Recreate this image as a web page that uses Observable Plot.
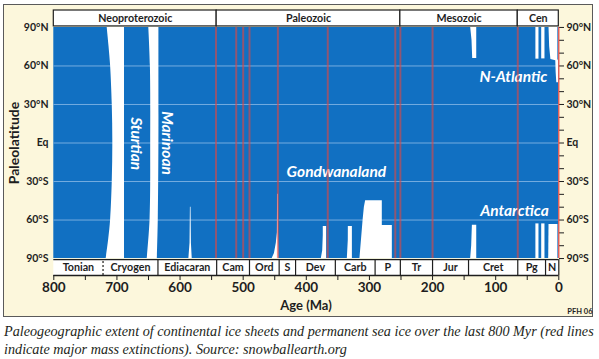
<!DOCTYPE html>
<html><head><meta charset="utf-8">
<script src="https://cdn.jsdelivr.net/npm/d3@7"></script>
<script src="https://cdn.jsdelivr.net/npm/@observablehq/plot@0.6"></script>
<style>
body{margin:0;background:#fff;}
#wrap{position:relative;width:599px;height:359px;overflow:hidden;}
#frame{position:absolute;left:3px;top:4px;width:588px;height:311px;background:#fcf7dc;border:1.5px solid #5a5a5a;}
#chart{position:absolute;left:0;top:0;}
#caption{position:absolute;left:4px;top:322px;width:598px;font-family:"Liberation Serif",serif;font-style:italic;font-size:14.2px;line-height:18px;color:#231f20;white-space:nowrap;}
</style></head><body>
<div id="wrap"><div id="frame"></div><div id="chart"></div>
<div id="caption">Paleogeographic extent of continental ice sheets and permanent sea ice over the last 800 Myr (red lines<br>indicate major mass extinctions). Source: snowballearth.org</div></div>
<script>
// ---- data ----
const eraNames = ["Neoproterozoic", "Paleozoic", "Mesozoic", "Cen"];
const eraBounds = [800, 542, 251, 65, 0];
const periodNames = ["Tonian","Cryogen","Ediacaran","Cam","Ord","S","Dev","Carb","P","Tr","Jur","Cret","Pg","N"];
const periodBounds = [800, 722, 635, 542, 490, 443, 417, 354, 291, 251, 200, 143, 65, 21, 0];
const dashedBounds = [722];
const extinctions = [543, 511, 500, 490, 445, 366, 259, 251, 200, 65];
const latTicks = [-90, -60, -30, 0, 30, 60, 90];
const latMinorTicks = [-90,-80,-70,-60,-50,-40,-30,-20,-10,0,10,20,30,40,50,60,70,80,90];
const gridLats = [-60, -30, 0, 30, 60];
const ageTicks = [800,750,700,650,600,550,500,450,400,350,300,250,200,150,100,50,0];

// full-height glaciations: [lat, older edge (Ma), younger edge (Ma)]
const sturtian = [[90,715.4,688],[75,712.5,688],[60,710,688],[30,707.4,688],[0,706.5,688],[-30,707.4,688],[-60,710,688],[-75,713,688],[-90,717,688]];
const marinoan = [[90,649.5,633.5],[60,647,633.5],[0,646.5,633.5],[-60,647.5,634.5],[-90,652,636]];
// southern ice rising from the pole: [age (Ma), upper latitude]
const gaskiers = [[586,-90],[584.2,-78],[583.6,-50],[582.6,-50],[582,-78],[580.7,-90]];
const hirnantian = [[454,-90],[450.5,-86],[447.5,-78],[445.8,-70],[445.5,-40],[444.4,-40],[444,-70],[443.4,-90]];
const lateDevonian = [[376.2,-90],[374,-84],[373.1,-72],[373.1,-65],[367.8,-65],[367.8,-90]];
const mississippian = [[335,-90],[333.5,-76],[333.4,-65],[327,-65],[327,-90]];
const lpia = [[315,-90],[312.5,-75],[310,-60],[308,-50],[306,-45],[279.6,-45],[279.6,-64.3],[263.7,-64.3],[263.7,-90]];
// polar caps: [lat, older edge, younger edge]
const earlyCretN = [[90,139.6,130],[80,137.5,130],[65.8,136.4,130]];
const earlyCretS = [[-64,136.9,130],[-80,138,130],[-90,139.6,130]];
const oligoceneN = [[90,36.3,31.4],[65.3,36.3,31.4]];
const mioceneN = [[90,27.1,21.9],[65.5,27.1,21.9]];
const neogeneN = [[90,15.5,1.5],[75,14.5,1.5],[65,12.5,1.5],[64,4.8,0.5],[55,4.2,0.5],[47,3.2,0.5]];
const oligoceneS = [[-63,36.3,31.4],[-90,36.3,31.4]];
const mioceneS = [[-63,27.1,21.9],[-90,27.1,21.9]];
const neogeneS = [[-63.5,15.5,1.5],[-90,16,1.5]];

const iceLabels = ["Sturtian","Marinoan","Gondwanaland","N-Atlantic","Antarctica"];
const labelAge = [670.5, 621.4, 352.3, 72, 70.3];
const labelLat = [-0.5, 0, -22.8, 51, -52.9];
const labelRotate = [90, 90, 0, 0, 0];

// ---- derived tables ----
const eras = eraNames.map((n, i) => ({name: n, a: eraBounds[i], b: eraBounds[i + 1]}));
const periods = periodNames.map((n, i) => ({name: n, a: periodBounds[i], b: periodBounds[i + 1]}));
const solidBounds = periodBounds.filter(b => b !== 800 && !dashedBounds.includes(b));
const labels = iceLabels.map((t, i) => ({t, age: labelAge[i], lat: labelLat[i], r: labelRotate[i]}));
const latFmt = d => d === 0 ? "Eq" : `${Math.abs(d)}°${d > 0 ? "N" : "S"}`;

const BLUE = "#1170c2", GRID = "#74ace0", WHITE = "#ffffff", INK = "#1e1e1e";
const H1 = 90.8, H2 = 103.2;

const capsX = [sturtian, marinoan, earlyCretN, earlyCretS, oligoceneN, mioceneN, neogeneN, oligoceneS, mioceneS, neogeneS];
const spikes = [gaskiers, hirnantian, lateDevonian, mississippian, lpia];

const chart = Plot.plot({
  width: 599, height: 320,
  marginLeft: 53, marginRight: 41, marginTop: 10, marginBottom: 45,
  x: {domain: [800, 0], range: [53.3, 558.3], label: null},
  y: {domain: [-H2, H2], range: [275, 10], label: null},
  style: {background: "transparent", fontFamily: "Lato", fontWeight: "bold", color: INK},
  marks: [
    Plot.rect([eraBounds], {x1: () => 800, x2: () => 0, y1: -90, y2: 90, fill: BLUE}),
    Plot.ruleY(gridLats, {x1: 800, x2: 0, stroke: GRID, strokeWidth: 1}),
    ...capsX.map((arr, i) => Plot.areaX(arr, {y: d => d[0], x1: d => d[1], x2: d => d[2], fill: WHITE, curve: i < 2 ? "catmull-rom" : "linear"})),
    ...spikes.map(arr => Plot.areaY(arr, {x: d => d[0], y1: -90, y2: d => d[1], fill: WHITE})),
    Plot.text(labels, {x: "age", y: "lat", text: "t", rotate: "r", fill: WHITE, fontSize: 15.5, fontStyle: "italic", fontWeight: "bold"}),
    Plot.ruleX(extinctions, {y1: -90, y2: 90, stroke: "#e8453c", strokeOpacity: 0.6, strokeWidth: 2}),
    // era header
    Plot.rect(eras, {x1: "a", x2: "b", y1: H1, y2: H2, fill: WHITE, stroke: INK, strokeWidth: 1.2}),
    Plot.text(eras, {x: d => (d.a + d.b) / 2, y: (H1 + H2) / 2, text: "name", fontSize: 10.7, fill: INK}),
    // period band
    Plot.rect(periods, {x1: "a", x2: "b", y1: -H2, y2: -H1, fill: WHITE}),
    Plot.ruleX(solidBounds, {y1: -H2, y2: -H1, stroke: INK, strokeWidth: 1.2}),
    Plot.ruleX(dashedBounds, {y1: -H2, y2: -H1, stroke: INK, strokeWidth: 1.2, strokeDasharray: "2,2"}),
    Plot.ruleY([-H1], {x1: 800, x2: 0, stroke: INK, strokeWidth: 1.2}),
    Plot.text(periods, {x: d => (d.a + d.b) / 2, y: -(H1 + H2) / 2, text: "name", fontSize: 10.7, fill: INK}),
    // axes
    Plot.ruleY([-H2], {x1: 800, x2: 0, stroke: INK, strokeWidth: 1.5}),
    Plot.axisX({anchor: "bottom", ticks: ageTicks, tickSize: 5, tickPadding: 2, tickFormat: d => d % 100 === 0 ? d : "", fontSize: 13.5, stroke: INK, fill: INK, label: null}),
    Plot.axisY({anchor: "left", ticks: latTicks, tickSize: 0, tickPadding: 5, tickFormat: latFmt, fontSize: 10.5, fill: INK, label: null}),
    Plot.axisY({anchor: "right", ticks: latMinorTicks, tickSize: 5, tickPadding: 3, tickFormat: d => d % 30 === 0 ? latFmt(d) : "", fontSize: 10.5, stroke: INK, fill: INK, label: null}),
    Plot.ruleX([0], {y1: -90, y2: 90, stroke: "#e8453c", strokeWidth: 1.2}),
    Plot.text(["Paleolatitude"], {frameAnchor: "left", dx: -39, rotate: -90, textAnchor: "middle", lineAnchor: "middle", text: d => d, fontSize: 14, fill: INK}),
    Plot.text(["Age (Ma)"], {frameAnchor: "bottom", dy: 30, lineAnchor: "middle", text: d => d, fontSize: 13, fill: INK}),
    Plot.text(["PFH 06"], {frameAnchor: "bottom-right", dx: 34, dy: 36, textAnchor: "end", lineAnchor: "middle", text: d => d, fontSize: 7.5, fill: INK})
  ]
});
document.getElementById("chart").appendChild(chart);
</script>
</body></html>
